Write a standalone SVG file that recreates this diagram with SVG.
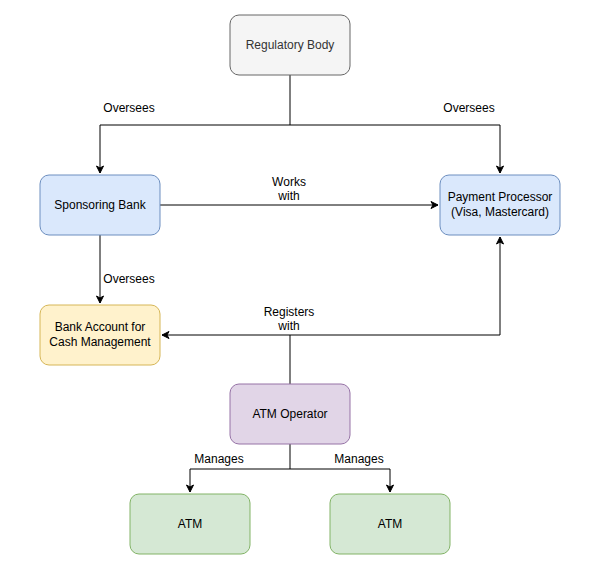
<svg xmlns="http://www.w3.org/2000/svg" width="606" height="575" viewBox="0 0 606 575">
<defs>
<marker id="arr" markerWidth="10" markerHeight="10" refX="8" refY="5" orient="auto" markerUnits="userSpaceOnUse">
<path d="M1,1.5 L8,5 L1,8.5 L3,5 Z" fill="#000" stroke="#000" stroke-width="1"/>
</marker>
</defs>
<style>
text{font-family:"Liberation Sans",Arial,Helvetica,sans-serif;font-size:12px;text-anchor:middle;fill:#000}
.box{stroke-width:1}
.edge{fill:none;stroke:#000;stroke-width:1}
</style>
<rect width="606" height="575" fill="#fff"/>
<g id="connectors">
<path class="edge" d="M290,75 V125 H100 V173" marker-end="url(#arr)"/>
<path class="edge" d="M290,125 H500 V173" marker-end="url(#arr)"/>
<path class="edge" d="M160,205 H438" marker-end="url(#arr)"/>
<path class="edge" d="M100,235 V303" marker-end="url(#arr)"/>
<path class="edge" d="M290,384 V335 H162" marker-end="url(#arr)"/>
<path class="edge" d="M290,335 H500 V237" marker-end="url(#arr)"/>
<path class="edge" d="M290,444 V469 H190 V492" marker-end="url(#arr)"/>
<path class="edge" d="M290,469 H390 V492" marker-end="url(#arr)"/>
<text x="129" y="112">Oversees</text>
<text x="469" y="112">Oversees</text>
<text x="289" y="186">Works</text>
<text x="289" y="200">with</text>
<text x="129" y="283">Oversees</text>
<text x="289" y="316">Registers</text>
<text x="289" y="330">with</text>
<text x="219" y="463">Manages</text>
<text x="359" y="463">Manages</text>
</g>
<g id="regulatory-body">
<rect class="box" x="230" y="15" width="120" height="60" rx="9" fill="#f5f5f5" stroke="#666666"/>
<text x="290" y="49" style="fill:#333333">Regulatory Body</text>
</g>
<g id="sponsoring-bank">
<rect class="box" x="40" y="175" width="120" height="60" rx="9" fill="#dae8fc" stroke="#6c8ebf"/>
<text x="100" y="209">Sponsoring Bank</text>
</g>
<g id="payment-processor">
<rect class="box" x="440" y="175" width="120" height="60" rx="9" fill="#dae8fc" stroke="#6c8ebf"/>
<text x="500" y="201">Payment Processor</text>
<text x="500" y="216">(Visa, Mastercard)</text>
</g>
<g id="bank-account">
<rect class="box" x="40" y="305" width="120" height="60" rx="9" fill="#fff2cc" stroke="#d6b656"/>
<text x="100" y="331">Bank Account for</text>
<text x="100" y="346">Cash Management</text>
</g>
<g id="atm-operator">
<rect class="box" x="230" y="384" width="120" height="60" rx="9" fill="#e1d5e7" stroke="#9673a6"/>
<text x="290" y="418">ATM Operator</text>
</g>
<g id="atm-1">
<rect class="box" x="130" y="494" width="120" height="60" rx="9" fill="#d5e8d4" stroke="#82b366"/>
<text x="190" y="528">ATM</text>
</g>
<g id="atm-2">
<rect class="box" x="330" y="494" width="120" height="60" rx="9" fill="#d5e8d4" stroke="#82b366"/>
<text x="390" y="528">ATM</text>
</g>
</svg>
